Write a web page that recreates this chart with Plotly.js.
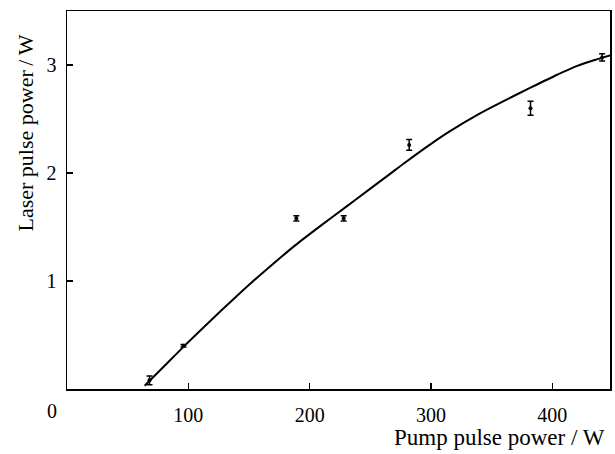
<!DOCTYPE html>
<html>
<head>
<meta charset="utf-8">
<script src="https://cdn.plot.ly/plotly-3.0.1.min.js"></script>
<style>html,body{margin:0;padding:0;background:#fff;}#chart{width:615px;height:454px;}</style>
</head>
<body>
<div id="chart"></div>
<script>
// Measured data points with error bars
const pumpPower = [68, 96, 189, 228, 282, 382, 441];
const laserPower = [0.08, 0.40, 1.58, 1.58, 2.26, 2.60, 3.07];
const laserError = [0.04, 0.012, 0.025, 0.025, 0.05, 0.065, 0.034];

// Fitted curve
const fitPump = [64, 80, 96, 120, 136, 151, 170, 188, 210, 228, 250, 266, 279, 300, 316, 340, 357, 382, 404, 420, 436, 448];
const fitLaser = [0.03, 0.21, 0.39, 0.65, 0.82, 0.975, 1.16, 1.33, 1.52, 1.67, 1.855, 1.99, 2.10, 2.27, 2.39, 2.55, 2.65, 2.79, 2.91, 2.99, 3.05, 3.09];

const xTicks = [100, 200, 300, 400];
const yTicks = [1, 2, 3];

const FONT = "'Liberation Serif', 'Times New Roman', serif";

const traces = [
  {
    x: fitPump, y: fitLaser, type: 'scatter', mode: 'lines',
    line: {color: '#000', width: 2, shape: 'spline', smoothing: 0.8},
    showlegend: false, hoverinfo: 'skip'
  },
  {
    x: pumpPower, y: laserPower, type: 'scatter', mode: 'markers',
    marker: {color: '#000', size: 4},
    error_y: {type: 'data', array: laserError, visible: true, color: '#000', thickness: 1.5, width: 3},
    showlegend: false
  }
];

const layout = {
  width: 615, height: 454,
  margin: {l: 67, r: 5, t: 11, b: 65},
  paper_bgcolor: '#fff', plot_bgcolor: '#fff',
  font: {family: FONT, color: '#000', size: 20},
  xaxis: {
    range: [0, 447.5], tickvals: xTicks, ticktext: xTicks.map(String),
    ticks: 'inside', ticklen: 6, tickwidth: 1.3, tickcolor: '#000',
    showline: true, linecolor: '#000', linewidth: 1.5, mirror: true,
    showgrid: false, zeroline: false,
    tickfont: {family: FONT, size: 20, color: '#000'},
    ticklabelstandoff: 7
  },
  yaxis: {
    range: [0, 3.5], tickvals: yTicks, ticktext: yTicks.map(String),
    ticks: 'inside', ticklen: 6, tickwidth: 1.3, tickcolor: '#000',
    showline: true, linecolor: '#000', linewidth: 1.5, mirror: true,
    showgrid: false, zeroline: false,
    tickfont: {family: FONT, size: 20, color: '#000'},
    ticklabelstandoff: 5
  },
  annotations: [
    {text: '0', xref: 'paper', yref: 'paper', x: 0, y: 0, xshift: -15, yshift: -22,
     showarrow: false, xanchor: 'center', yanchor: 'middle', font: {family: FONT, size: 20, color: '#000'}},
    {text: 'Pump pulse power / W', xref: 'paper', yref: 'paper', x: 1, y: 0, xshift: -3, yshift: -48,
     showarrow: false, xanchor: 'right', yanchor: 'middle', font: {family: FONT, size: 23, color: '#000'}},
    {text: 'Laser pulse power\u2009/\u2009W', xref: 'paper', yref: 'paper', x: 0, y: 1, xshift: -42, yshift: -22,
     showarrow: false, xanchor: 'center', yanchor: 'top', textangle: -90, font: {family: FONT, size: 22, color: '#000'}}
  ]
};

Plotly.newPlot('chart', traces, layout, {displayModeBar: false, staticPlot: true});
</script>
</body>
</html>
